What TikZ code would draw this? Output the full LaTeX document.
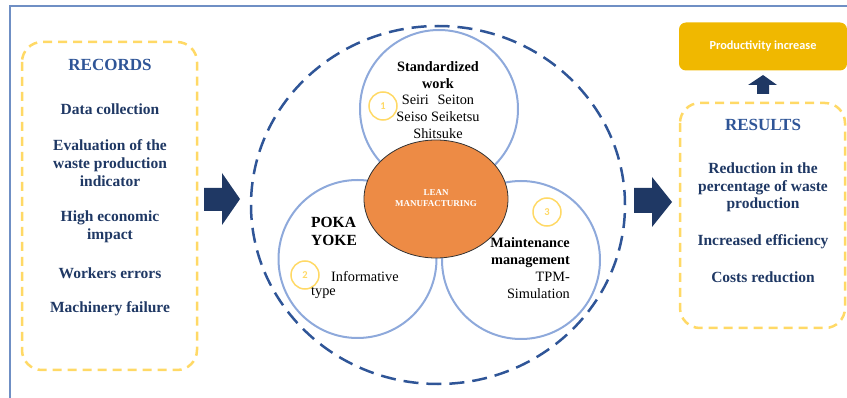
\documentclass[tikz,border=0pt]{standalone}
\usepackage{fontspec}
\usetikzlibrary{shapes.geometric}
\setmainfont{Liberation Serif}
\newfontfamily\calibri{Carlito}
\definecolor{navy}{HTML}{1F3864}
\definecolor{headblue}{HTML}{2F5597}
\definecolor{dashyel}{HTML}{FFD966}
\definecolor{circblue}{HTML}{8EA9DB}
\definecolor{leanorange}{HTML}{ED8B45}
\definecolor{gold}{HTML}{F0B800}
\definecolor{framec}{HTML}{6F8FC4}
\begin{document}
\begin{tikzpicture}[x=1pt,y=-1pt,
  yelbox/.style={draw=dashyel,line width=2.5pt,dash pattern=on 9pt off 6pt,rounded corners=20pt},
  petal/.style={draw=circblue,line width=2pt,circle,minimum size=158pt,inner sep=0},
  numc/.style={draw=dashyel,line width=1.5pt,circle,minimum size=28pt,inner sep=0,text=dashyel,font=\calibri\bfseries\fontsize{10.5}{12}\selectfont},
  head/.style={font=\bfseries\fontsize{17}{19}\selectfont,text=headblue,inner sep=0},
  item/.style={font=\bfseries\fontsize{15.5}{18}\selectfont,text=navy,align=center,inner sep=0},
  ctext/.style={font=\fontsize{14.3}{16.8}\selectfont,inner sep=0},
  blockarrow/.style={fill=navy,draw=none}]
\useasboundingbox (0,0) rectangle (847,398);
% frame
\draw[framec,line width=1.2pt] (10,398) -- (10,6) -- (847,6);
% records box
\draw[yelbox] (22,42) rectangle (197,370);
\node[head] (rec) at (110,65) {RECORDS};
\node[item] (r1) at (110,109) {Data collection};
\node[item] (r2) at (110,163) {Evaluation of the\\waste production\\indicator};
\node[item] (r3) at (110,226.5) {High economic\\impact};
\node[item] (r4) at (110,273) {Workers errors};
\node[item] (r5) at (110,309) {Machinery failure};
% arrow 1
\fill[blockarrow] (204,188) -- (222,188) -- (222,173) -- (240,199) -- (222,225) -- (222,211) -- (204,211) -- cycle;
% big dashed circle
\draw[headblue,line width=2.5pt,dash pattern=on 15pt off 8pt] (438,205) ellipse [x radius=187pt,y radius=179pt];
% petals
\node[petal] (top) at (439,109) {};
\node[petal] (left) at (357.5,259) {};
\node[petal] (right) at (521,260) {};
% lean
\node[draw=black!80,line width=0.8pt,fill=leanorange,ellipse,minimum width=144pt,minimum height=118pt,inner sep=0] (lean) at (436,199) {};
\node[font=\bfseries\fontsize{9}{10.5}\selectfont,text=white,align=center,inner sep=0] (leantxt) at (436,198) {LEAN\\MANUFACTURING};
% numbers
\node[numc] (n1) at (383,106) {1};
\node[numc] (n2) at (305,275) {2};
\node[numc] (n3) at (547,212) {3};
% petal texts
\node[ctext,align=center] (t1) at (438,100) {\textbf{Standardized}\\\textbf{work}\\Seiri\hspace{0.6em}Seiton\\Seiso Seiketsu\\Shitsuke};
\node[ctext,align=left,anchor=west,font=\bfseries\fontsize{15.5}{18}\selectfont] (t2) at (311,231) {POKA\\YOKE};
\node[ctext,anchor=west] (t2b) at (331,277) {Informative};
\node[ctext,anchor=west] (t2c) at (311,293) {type};
\node[ctext,align=right,anchor=east] (t3) at (570,268) {\textbf{Maintenance}\\\textbf{management}\\TPM-\\Simulation};
% arrow 2
\fill[blockarrow] (634,188) -- (652,188) -- (652,177) -- (672,202) -- (652,227) -- (652,213) -- (634,213) -- cycle;
% results
\draw[yelbox] (680,103) rectangle (845,328);
\node[head] (res) at (763,125) {RESULTS};
\node[item,font=\bfseries\fontsize{15.5}{17.5}\selectfont] (s1) at (763,187.5) {Reduction in the\\percentage of waste\\production};
\node[item] (s2) at (763,242) {Increased efficiency};
\node[item] (s3) at (763,277) {Costs reduction};
% up arrow
\fill[blockarrow] (757,94) -- (757,85) -- (748,85) -- (763,75) -- (777,85) -- (769,85) -- (769,94) -- cycle;
% productivity
\node[fill=gold,rounded corners=7pt,minimum width=168pt,minimum height=48pt,inner sep=0,text=white,font=\calibri\bfseries\fontsize{12.3}{14}\selectfont] (prod) at (763,46.5) {Productivity increase};
\end{tikzpicture}
\end{document}
